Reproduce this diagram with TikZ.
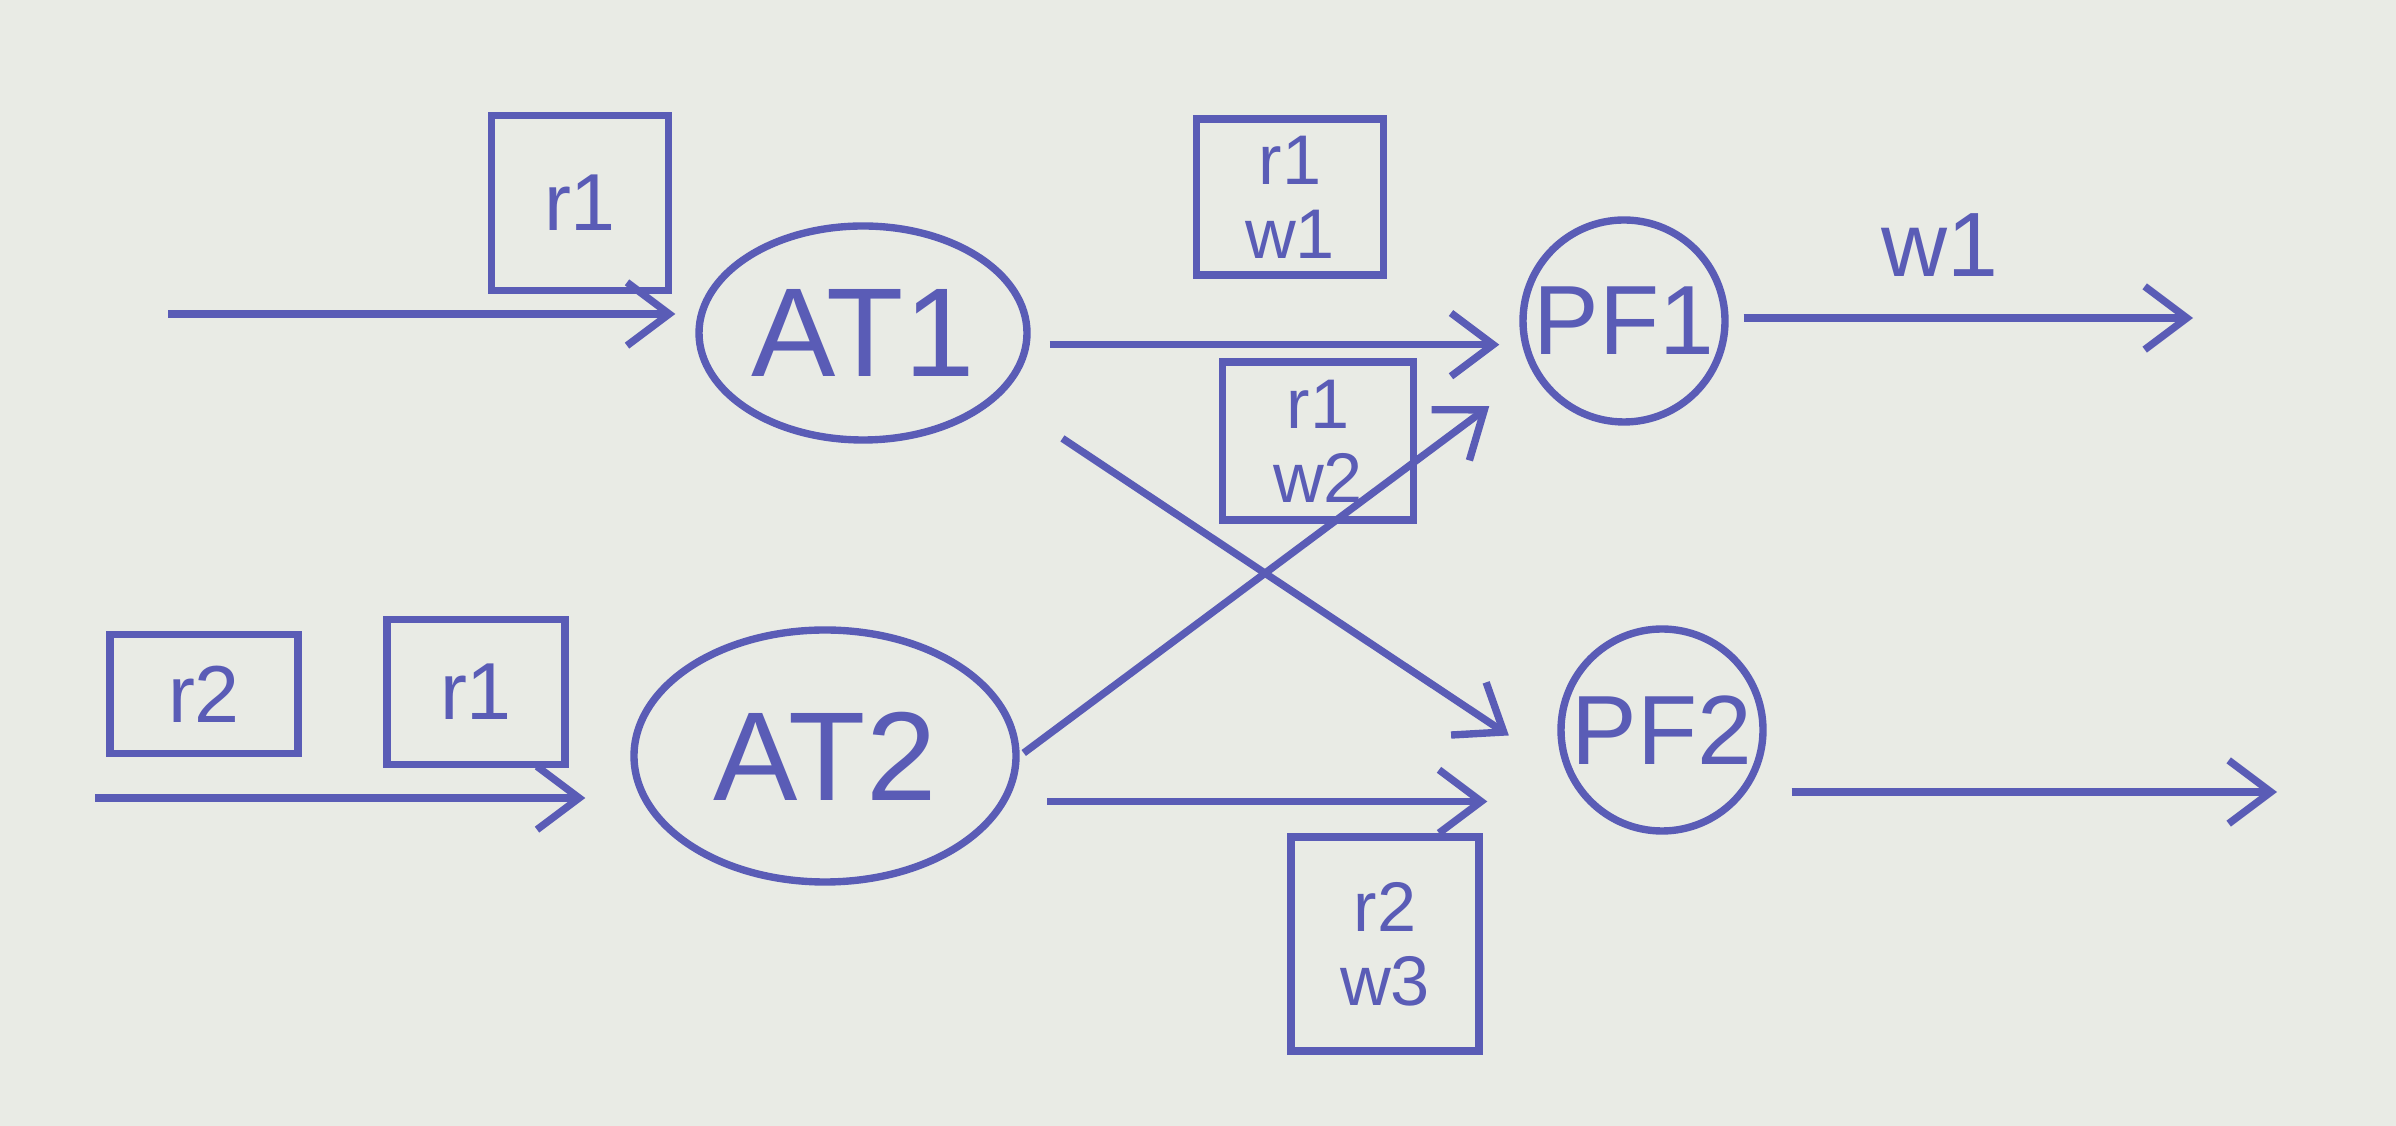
\documentclass[tikz,border=0pt]{standalone}
\usepackage{fontspec}
\setmainfont{Liberation Sans}
\usetikzlibrary{positioning,arrows.meta,calc,shapes.geometric}
\definecolor{Ink}{HTML}{5A5CB6}
\definecolor{Paper}{HTML}{E9EBE5}

\begin{document}
\begin{tikzpicture}[
  ink/.style={draw=Ink,line width=2.1pt},
  tag/.style={ink,text=Ink,align=center,inner sep=0pt,
              font=\fontsize{23}{27}\selectfont},
  tagtwo/.style={tag,font=\fontsize{20}{21}\selectfont},
  proc/.style={ink,ellipse,text=Ink,inner sep=0pt,
               font=\fontsize{36}{38}\selectfont},
  sink/.style={ink,circle,text=Ink,inner sep=0pt,minimum size=2.02cm,
               font=\fontsize{28}{30}\selectfont},
  ar/.style={ink,-{Straight Barb[length=12pt,width=18pt]}},
]
\fill[Paper] (0,0) rectangle (23.96,11.26);
\useasboundingbox (0,0) rectangle (23.96,11.26);

% processing nodes
\node[proc,minimum width=3.28cm,minimum height=2.14cm] (at1) at (8.63,7.93) {AT1};
\node[proc,minimum width=3.82cm,minimum height=2.52cm] (at2) at (8.25,3.70) {AT2};
\node[sink] (pf1) at (16.24,8.05) {PF1};
\node[sink] (pf2) at (16.62,3.96) {PF2};

% free ends
\coordinate (in1) at (1.68,8.12);
\coordinate (in2) at (0.95,3.28);
\coordinate (out1) at (21.93,8.08);
\coordinate (out2) at (22.77,3.34);

\draw[ar,shorten >=0.2cm] (in1) -- (in1 -| at1.west);
\draw[ar,shorten >=0.45cm] (in2) -- (in2 -| at2.west);
\draw[ar,shorten <=0.2cm,shorten >=0.2cm] (at1.-4) -- (at1.-4 -| pf1.west);
\draw[ar,shorten <=0.4cm,shorten >=0.7cm] (at2.-14) -- (at2.-14 -| pf2.west);
\draw[ar,shorten <=0.75cm,shorten >=0.7cm] (at1.-25) -- (pf2.205);
\draw[ar,shorten <=0.05cm,shorten >=0.55cm] (at2.east) -- (pf1.210);
\draw[ar,shorten <=0.15cm] (pf1.east |- out1) -- (out1);
\draw[ar,shorten <=0.25cm] (pf2.east |- out2) -- (out2);

% message tags
\node[tag,minimum width=1.77cm,minimum height=1.75cm] (tagin1) at (5.80,9.23) {r1};
\node[tagtwo,minimum width=1.87cm,minimum height=1.56cm] (tag11) at (12.90,9.29) {r1\\w1};
\node[tagtwo,minimum width=1.91cm,minimum height=1.58cm] (tag21) at (13.18,6.85) {r1\\w2};
\node[tag,minimum width=1.88cm,minimum height=1.19cm] (tagin2a) at (2.04,4.32) {r2};
\node[tag,minimum width=1.78cm,minimum height=1.45cm] (tagin2b) at (4.76,4.34) {r1};
\node[tagtwo,minimum width=1.88cm,minimum height=2.14cm] (tag22) at (13.85,1.82) {r2\\w3};

\node[text=Ink,font=\fontsize{26}{28}\selectfont] (lblw1) at (19.40,8.81) {w1};
\end{tikzpicture}
\end{document}
